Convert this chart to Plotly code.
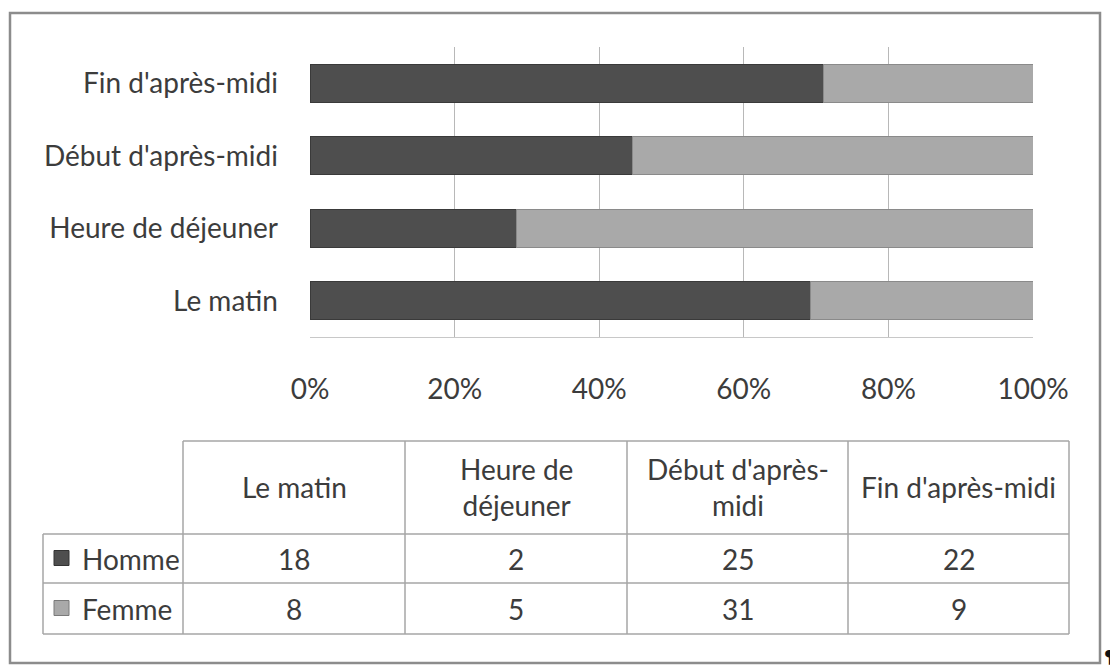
import plotly.graph_objects as go

# ---- data ----
categories = ["Le matin", "Heure de déjeuner", "Début d'après-midi", "Fin d'après-midi"]
table_headers = ["Le matin", "Heure de<br>déjeuner", "Début d'après-<br>midi", "Fin d'après-midi"]
homme = [18, 2, 25, 22]
femme = [8, 5, 31, 9]
series_names = ["Homme", "Femme"]
tick_vals = [0, 20, 40, 60, 80, 100]
tick_text = ["0%", "20%", "40%", "60%", "80%", "100%"]

# ---- layout helpers ----
# The page body has an 8px margin, so the figure is shifted by 8px; coordinates below
# are given in screenshot pixels and converted to paper coordinates.
OFF = 8
W, H = 1118 - OFF, 666 - OFF
L, R, T, B = 310, 1033, 47, 337  # plot area in screenshot pixels


def px(x):
    return (x - L) / (R - L)


def py(y):
    return (B - y) / (B - T)


FONT = "Lato, 'Open Sans', sans-serif"
TXT = "#3c3c3c"
DARK = "#4e4e4e"
LIGHT = "#a9a9a9"
FONT_SIZE = 28

fig = go.Figure()
fig.add_trace(go.Bar(y=categories, x=homme, name=series_names[0], orientation="h",
                     marker=dict(color=DARK, line=dict(color="#3a3a3a", width=1))))
fig.add_trace(go.Bar(y=categories, x=femme, name=series_names[1], orientation="h",
                     marker=dict(color=LIGHT, line=dict(color="#8a8a8a", width=1))))

shapes = []
annotations = []

# outer frame
shapes.append(dict(type="rect", xref="paper", yref="paper",
                   x0=px(10), x1=px(1100), y0=py(663), y1=py(13),
                   line=dict(color="#8c8c8c", width=2.5), fillcolor="rgba(0,0,0,0)", layer="below"))

# data table grid
col_x = [43, 183, 405, 627, 848, 1069]
row_y = [441, 534, 583, 634]
LC = "#a6a6a6"
shapes.append(dict(type="line", xref="paper", yref="paper", x0=px(col_x[1]), x1=px(col_x[-1]),
                   y0=py(row_y[0]), y1=py(row_y[0]), line=dict(color=LC, width=1.5)))
for yy in row_y[1:]:
    shapes.append(dict(type="line", xref="paper", yref="paper", x0=px(col_x[0]), x1=px(col_x[-1]),
                       y0=py(yy), y1=py(yy), line=dict(color=LC, width=1.5)))
shapes.append(dict(type="line", xref="paper", yref="paper", x0=px(col_x[0]), x1=px(col_x[0]),
                   y0=py(row_y[1]), y1=py(row_y[-1]), line=dict(color=LC, width=1.5)))
for xx in col_x[1:]:
    shapes.append(dict(type="line", xref="paper", yref="paper", x0=px(xx), x1=px(xx),
                       y0=py(row_y[0]), y1=py(row_y[-1]), line=dict(color=LC, width=1.5)))

# header texts
for i, h in enumerate(table_headers):
    cx = (col_x[i + 1] + col_x[i + 2]) / 2
    cy = (row_y[0] + row_y[1]) / 2
    annotations.append(dict(xref="paper", yref="paper", x=px(cx), y=py(cy), text=h,
                            showarrow=False, xanchor="center", yanchor="middle",
                            font=dict(family=FONT, size=FONT_SIZE, color=TXT)))

# rows with legend keys
row_styles = [(series_names[0], homme, DARK, "#333333"), (series_names[1], femme, LIGHT, "#7a7a7a")]
for r, (name, vals, col, edge) in enumerate(row_styles):
    cy = (row_y[r + 1] + row_y[r + 2]) / 2
    shapes.append(dict(type="rect", xref="paper", yref="paper",
                       x0=px(54), x1=px(69), y0=py(cy + 7), y1=py(cy - 8),
                       fillcolor=col, line=dict(color=edge, width=1)))
    annotations.append(dict(xref="paper", yref="paper", x=px(80), y=py(cy), text=name,
                            showarrow=False, xanchor="left", yanchor="middle",
                            font=dict(family=FONT, size=FONT_SIZE, color=TXT)))
    for i, v in enumerate(vals):
        cx = (col_x[i + 1] + col_x[i + 2]) / 2
        annotations.append(dict(xref="paper", yref="paper", x=px(cx), y=py(cy), text=str(v),
                                showarrow=False, xanchor="center", yanchor="middle",
                                font=dict(family=FONT, size=FONT_SIZE, color=TXT)))

# pilcrow mark at the bottom-right corner
annotations.append(dict(xref="paper", yref="paper", x=px(1117), y=py(656), text="<b>¶</b>",
                        showarrow=False, xanchor="right", yanchor="middle",
                        font=dict(family="DejaVu Sans", size=18, color="#111111")))

fig.update_layout(
    width=W, height=H,
    margin=dict(l=L - OFF, r=W - (R - OFF), t=T - OFF, b=H - (B - OFF), pad=0),
    barmode="stack", barnorm="percent", bargap=0.47,
    showlegend=False,
    plot_bgcolor="white", paper_bgcolor="white",
    font=dict(family=FONT, size=FONT_SIZE, color=TXT),
    shapes=shapes, annotations=annotations,
    xaxis=dict(range=[0, 100], tickvals=tick_vals, ticktext=tick_text,
               showgrid=True, gridcolor="#b8b8b8", gridwidth=1.2,
               showline=True, linecolor="#c8c8c8", linewidth=1, mirror=False,
               zeroline=False, ticks="", ticklabelstandoff=27, fixedrange=True),
    yaxis=dict(ticks="", showgrid=False, zeroline=False, showline=False,
               ticklabelstandoff=31, fixedrange=True, categoryorder="array",
               categoryarray=categories),
)

fig.write_html("out.html")
